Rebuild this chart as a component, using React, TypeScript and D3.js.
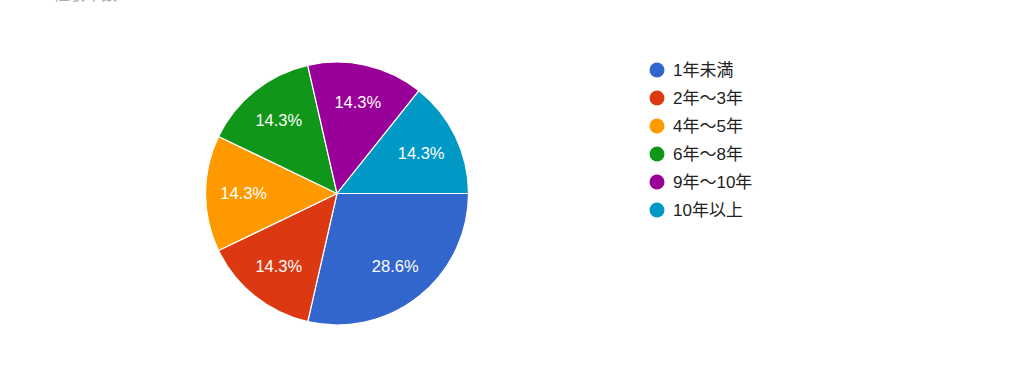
import React from "react";
import * as d3 from "d3";

const categories = ["1年未満", "2年～3年", "4年～5年", "6年～8年", "9年～10年", "10年以上"];
const counts = [2, 1, 1, 1, 1, 1];
const colors = ["#3366cc", "#dc3912", "#ff9900", "#109618", "#990099", "#0099c6"];

export default function App() {
  const W = 1024, H = 376;
  const cx = 337, cy = 193.5, r = 131.5;
  const total = d3.sum(counts);
  const pie = d3.pie<number>().sort(null).value((d) => d)
    .startAngle(Math.PI / 2).endAngle(Math.PI / 2 + 2 * Math.PI);
  const arcs = pie(counts);
  const arc = d3.arc<d3.PieArcDatum<number>>().innerRadius(0).outerRadius(r);
  const labelArc = d3.arc<d3.PieArcDatum<number>>().innerRadius(r * 0.71).outerRadius(r * 0.71);
  const fmt = (v: number) => (v / total * 100).toFixed(1) + "%";
  return (
    <svg width={W} height={H} style={{ position: "absolute", left: 0, top: 0, background: "#fff" }}
      fontFamily="Arial, 'Liberation Sans', 'Noto Sans CJK JP', sans-serif">
      <text x={53} y={-0.5} fontSize={16} fill="#aaa">経験年数</text>
      <g transform={`translate(${cx},${cy})`}>
        {arcs.map((a, i) => (
          <path key={i} d={arc(a) || ""} fill={colors[i]} stroke="#fff" strokeWidth={1.2} />
        ))}
        {arcs.map((a, i) => {
          const [x, y] = labelArc.centroid(a);
          return (
            <text key={"t" + i} x={x} y={y} dy="0.36em" textAnchor="middle" fontSize={16.5} fill="#fff">
              {fmt(a.data)}
            </text>
          );
        })}
      </g>
      <g>
        {categories.map((c, i) => (
          <g key={c} transform={`translate(657,${70 + i * 28})`}>
            <circle r={7.5} fill={colors[i]} />
            <text x={16} dy="0.36em" fontSize={17} fill="#222">{c}</text>
          </g>
        ))}
      </g>
    </svg>
  );
}
